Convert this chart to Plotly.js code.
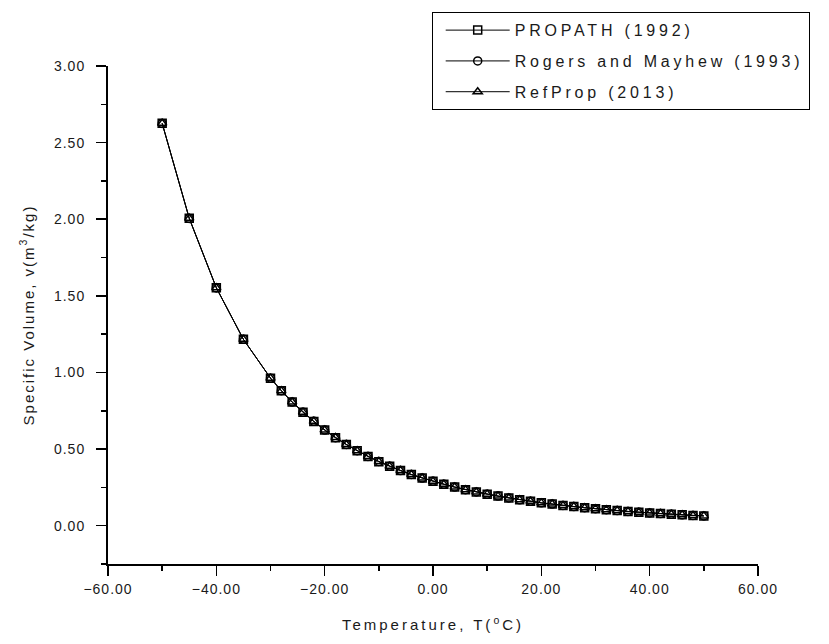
<!DOCTYPE html>
<html>
<head>
<meta charset="utf-8">
<script src="https://cdn.plot.ly/plotly-3.0.1.min.js"></script>
<style>
html,body{margin:0;padding:0;background:#fff;}
#chart{width:829px;height:644px;}
.xtick text, .ytick text{letter-spacing:1px;}
.legendtext{letter-spacing:3.8px;}
.xtitle{letter-spacing:3px;}
.ytitle{letter-spacing:2px;}
</style>
</head>
<body>
<div id="chart"></div>
<script>
// Temperature (°C)
const temperature = [-50,-45,-40,-35,-30,-28,-26,-24,-22,-20,-18,-16,-14,-12,-10,-8,-6,-4,-2,0,2,4,6,8,10,12,14,16,18,20,22,24,26,28,30,32,34,36,38,40,42,44,46,48,50];

// Specific volume (m3/kg)
const propath = [2.627,2.006,1.553,1.216,0.963,0.881,0.807,0.740,0.680,0.624,0.574,0.530,0.489,0.452,0.418,0.388,0.360,0.334,0.311,0.290,0.270,0.252,0.235,0.220,0.206,0.193,0.181,0.169,0.159,0.149,0.141,0.132,0.125,0.117,0.111,0.104,0.099,0.093,0.088,0.083,0.079,0.075,0.071,0.067,0.064];
const rogersMayhew = [2.625,2.005,1.552,1.216,0.963,0.881,0.807,0.741,0.681,0.624,0.574,0.530,0.489,0.452,0.419,0.388,0.360,0.334,0.311,0.290,0.270,0.252,0.235,0.220,0.206,0.193,0.181,0.169,0.159,0.149,0.141,0.132,0.125,0.117,0.111,0.104,0.099,0.093,0.088,0.083,0.079,0.075,0.071,0.067,0.064];
const refprop = [2.626,2.006,1.553,1.216,0.963,0.881,0.807,0.741,0.681,0.624,0.575,0.530,0.489,0.452,0.419,0.388,0.360,0.334,0.311,0.290,0.270,0.252,0.235,0.220,0.206,0.193,0.181,0.169,0.159,0.149,0.141,0.132,0.125,0.117,0.111,0.104,0.099,0.093,0.088,0.083,0.079,0.075,0.071,0.067,0.064];

const seriesNames = ["PROPATH (1992)", "Rogers and Mayhew (1993)", "RefProp (2013)"];
const xTickVals = [-60,-40,-20,0,20,40,60];
const yTickVals = [0,0.5,1,1.5,2,2.5,3];

const FONT = "Arial, 'Liberation Sans', sans-serif";
const TXT = "#1a1a1a";
const symbols = ["square-open","circle-open","triangle-up-open"];
const data = [propath, rogersMayhew, refprop].map((ys, i) => ({
  x: temperature,
  y: ys,
  name: seriesNames[i],
  type: "scatter",
  mode: "lines+markers",
  line: {color: "#000", width: 1},
  marker: {symbol: symbols[i], size: 8, color: "#000", line: {width: 1.5, color: "#000"}},
  legendgroup: "g" + i
}));

const layout = {
  width: 829, height: 644,
  paper_bgcolor: "#fff", plot_bgcolor: "#fff",
  margin: {l: 108, r: 71, t: 66, b: 80},
  font: {family: FONT, color: TXT, size: 14},
  showlegend: true,
  legend: {
    x: 0.498, y: 1.108, xanchor: "left", yanchor: "top",
    bordercolor: "#000", borderwidth: 1, bgcolor: "#fff",
    font: {family: FONT, size: 16, color: TXT},
    traceorder: "grouped", tracegroupgap: 7,
    itemwidth: 64, indentation: 8
  },
  xaxis: {
    range: [-60, 60],
    tickvals: xTickVals,
    tickformat: ".2f",
    ticks: "outside", ticklen: 10, tickwidth: 1.5, tickcolor: "#000",
    minor: {dtick: 10, ticks: "outside", ticklen: 5, tickwidth: 1.5, tickcolor: "#000"},
    ticklabelstandoff: 1,
    showline: true, linecolor: "#000", linewidth: 2,
    showgrid: false, zeroline: false,
    tickfont: {family: FONT, size: 14, color: TXT},
    title: {text: "Temperature, T(<sup>o</sup>C)", font: {family: FONT, size: 15, color: TXT}, standoff: 24}
  },
  yaxis: {
    range: [-0.25, 3.0],
    tickvals: yTickVals,
    tickformat: ".2f",
    ticks: "outside", ticklen: 10, tickwidth: 1.5, tickcolor: "#000",
    minor: {dtick: 0.25, ticks: "outside", ticklen: 5, tickwidth: 1.5, tickcolor: "#000"},
    ticklabelstandoff: 8,
    showline: true, linecolor: "#000", linewidth: 2,
    showgrid: false, zeroline: false,
    tickfont: {family: FONT, size: 14, color: TXT},
    title: {text: "Specific Volume, v(m<sup>3</sup>/kg)", font: {family: FONT, size: 15, color: TXT}, standoff: 16}
  }
};

Plotly.newPlot("chart", data, layout, {displayModeBar: false, staticPlot: true});
</script>
</body>
</html>
